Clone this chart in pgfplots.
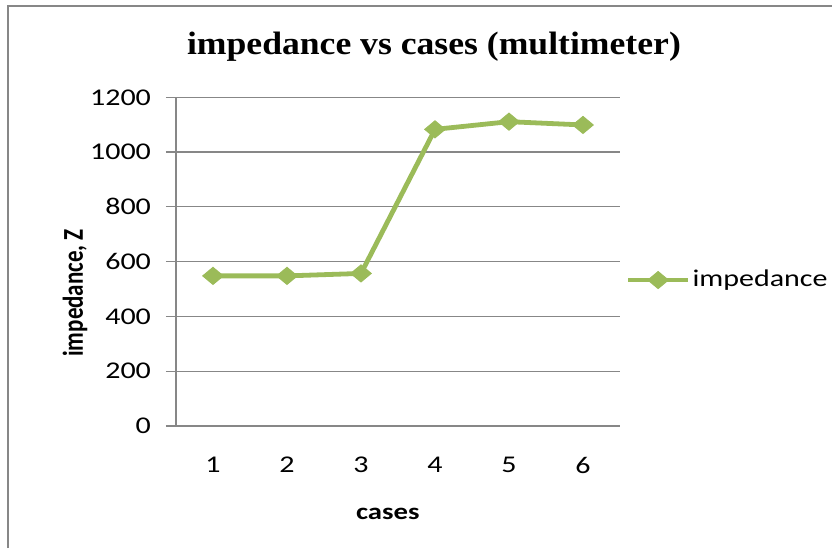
\documentclass[border=0pt]{standalone}
\usepackage{fontspec}
\setmainfont{Carlito}[FakeStretch=1.25]
\newfontfamily\plainfont{Carlito}
\newfontfamily\titlefont{Liberation Serif}[FakeStretch=1.1]
\usepackage{pgfplots}
\pgfplotsset{compat=1.18}
\definecolor{linegreen}{HTML}{9BBB59}
\definecolor{gridgray}{HTML}{878787}
\begin{document}
\begin{tikzpicture}[x=1pt,y=1pt]
\useasboundingbox (0,0) rectangle (416,274);
\draw[gridgray, line width=1pt] (4,0) -- (4,271) -- (416,271);
\begin{axis}[
  at={(88pt,61pt)}, anchor=south west,
  scale only axis, width=222pt, height=164.35pt,
  xmin=0.5, xmax=6.5, ymin=0, ymax=1200,
  xtick={1,2,3,4,5,6}, ytick={0,200,...,1200},
  axis x line*=bottom, axis y line*=left,
  axis line style={-, gridgray, line width=0.6pt},
  ymajorgrids, grid style={gridgray, line width=0.6pt},
  x tick style={draw=none}, y tick style={gridgray, line width=0.6pt},
  tick align=outside, major tick length=5pt,
  /pgf/number format/assume math mode=true,
  /pgf/number format/1000 sep={},
  ticklabel style={font=\fontsize{12}{14}\selectfont, text=black},
  yticklabel style={anchor=east, xshift=-4pt},
  xticklabel style={anchor=center, yshift=-14.5pt},
  title={\titlefont\bfseries impedance vs cases (multimeter)},
  title style={at={(axis description cs:0.581,1.117)}, anchor=center, font=\fontsize{16.2}{18}\selectfont},
  xlabel={\bfseries cases},
  xlabel style={at={(axis description cs:0.477,-0.267)}, anchor=center, font=\fontsize{11.5}{13}\selectfont},
  ylabel={\plainfont\bfseries impedance, Z},
  ylabel style={at={(axis description cs:-0.2275,0.405)}, anchor=center, yscale=1.25, font=\fontsize{11.5}{13}\selectfont},
  legend style={draw=none, fill=none, at={(1.012,0.444)}, anchor=west, inner sep=0pt,
    font=\fontsize{12}{14}\selectfont, nodes={inner xsep=1pt}},
  legend image code/.code={\draw[#1, mark repeat=2, mark phase=2] plot coordinates {(0pt,0pt) (15pt,0pt) (30pt,0pt)};},
]
\addplot[color=linegreen, line width=2.4pt, mark=diamond*, mark size=4.25pt,
  mark options={xscale=1.6, line width=0.5pt}] coordinates {
  (1,548) (2,548) (3,557) (4,1083) (5,1111) (6,1099)
};
\addlegendentry{impedance}
\end{axis}
\end{tikzpicture}
\end{document}
